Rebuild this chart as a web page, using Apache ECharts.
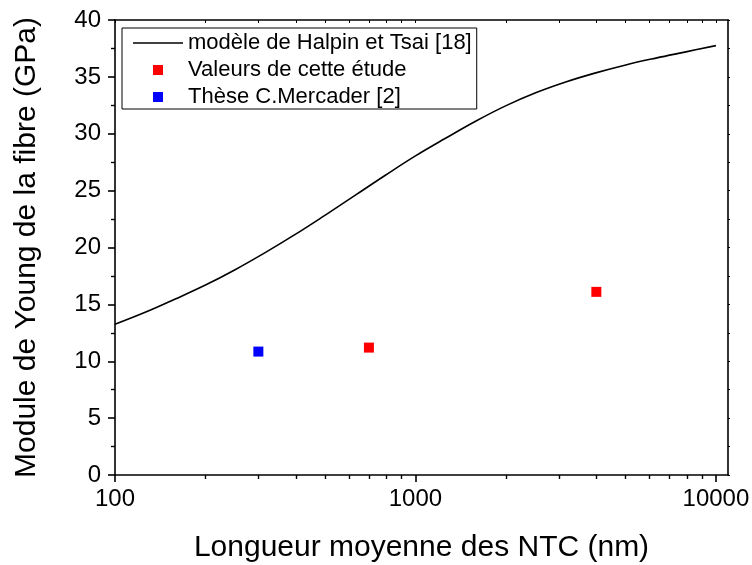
<!DOCTYPE html>
<html>
<head>
<meta charset="utf-8">
<script src="https://cdn.jsdelivr.net/npm/echarts@6/dist/echarts.min.js"></script>
<style>html,body{margin:0;padding:0;background:#fff}#c{width:752px;height:565px}</style>
</head>
<body>
<div id="c"></div>
<script>
// Data
const curveX = [100, 126, 158, 200, 251, 316, 398, 501, 631, 794, 1000, 1259, 1585, 1995, 2512, 3162, 3981, 5012, 6310, 7943, 10000];
const curveY = [13.25, 14.3, 15.45, 16.7, 18.05, 19.55, 21.15, 22.85, 24.6, 26.35, 28.05, 29.6, 31.1, 32.45, 33.6, 34.55, 35.35, 36.05, 36.65, 37.2, 37.75];
const studyX = [700, 4000];
const studyY = [11.2, 16.1];
const theseX = [300];
const theseY = [10.85];
const seriesNames = ['modèle de Halpin et Tsai [18]', 'Valeurs de cette étude', 'Thèse C.Mercader [2]'];
const xMajorTicks = [100, 1000, 10000];
const xMinorTicks = [200, 300, 400, 500, 600, 700, 800, 900, 2000, 3000, 4000, 5000, 6000, 7000, 8000, 9000];
const xTitle = 'Longueur moyenne des NTC (nm)';
const yTitle = 'Module de Young de la fibre (GPa)';

const zip = (xs, ys) => xs.map((x, i) => [x, ys[i]]);
const FONT = "'Liberation Sans', Arial, sans-serif";
const XMIN = 100, XMAX = 10970;
const axisLine = {show: true, lineStyle: {color: '#000', width: 1.6}};
const legendText = {fontFamily: FONT, fontSize: 22, color: '#000', lineHeight: 22};

const chart = echarts.init(document.getElementById('c'));
chart.setOption({
  animation: false,
  backgroundColor: '#fff',
  grid: {left: 115, right: 24, top: 20, bottom: 90, containLabel: false, outerBoundsMode: 'none'},
  legend: [
    {
      left: 122, top: 28, orient: 'vertical',
      padding: [4, 5, 1, 11],
      borderColor: '#000', borderWidth: 1,
      itemWidth: 50, itemHeight: 10, itemGap: 5,
      textStyle: legendText,
      data: [
        {name: seriesNames[0], icon: 'path://M0,0H50V1.6H0Z'},
        {name: seriesNames[1], icon: 'rect', itemStyle: {opacity: 0}},
        {name: seriesNames[2], icon: 'rect', itemStyle: {opacity: 0}}
      ]
    },
    {
      left: 153, top: 59, orient: 'vertical',
      padding: 0,
      itemWidth: 10, itemHeight: 10, itemGap: 5,
      textStyle: Object.assign({}, legendText, {color: 'rgba(0,0,0,0)'}),
      data: [
        {name: seriesNames[1], icon: 'rect'},
        {name: seriesNames[2], icon: 'rect'}
      ]
    }
  ],
  xAxis: [
    {
      type: 'log', logBase: 10, min: XMIN, max: XMAX, position: 'bottom',
      name: xTitle, nameLocation: 'middle', nameGap: 58,
      nameTextStyle: {fontFamily: FONT, fontSize: 30, color: '#000'},
      axisLine: axisLine,
      axisTick: {show: true, inside: false, length: 7, customValues: xMajorTicks, lineStyle: {color: '#000', width: 1.6}},
      axisLabel: {show: true, margin: 12, fontFamily: FONT, fontSize: 24, color: '#000', customValues: xMajorTicks,
                  formatter: v => String(Math.round(v))},
      splitLine: {show: false}
    },
    {
      type: 'log', logBase: 10, min: XMIN, max: XMAX, position: 'bottom', gridIndex: 0,
      axisLine: {show: false},
      axisTick: {show: true, inside: false, length: 4, customValues: xMinorTicks, lineStyle: {color: '#000', width: 1.4}},
      axisLabel: {show: false},
      splitLine: {show: false}
    },
    {
      type: 'log', logBase: 10, min: XMIN, max: XMAX, position: 'top', gridIndex: 0,
      axisLine: axisLine,
      axisTick: {show: true, inside: true, length: 3, customValues: xMajorTicks.concat(xMinorTicks), lineStyle: {color: '#000', width: 1}},
      axisLabel: {show: false},
      splitLine: {show: false}
    }
  ],
  yAxis: [
    {
      type: 'value', min: 0, max: 40, interval: 5, position: 'left',
      name: yTitle, nameLocation: 'middle', nameGap: 73,
      nameTextStyle: {fontFamily: FONT, fontSize: 30, color: '#000'},
      axisLine: axisLine,
      axisTick: {show: true, inside: false, length: 7, lineStyle: {color: '#000', width: 1.6}},
      minorTick: {show: true, splitNumber: 2, length: 4, lineStyle: {color: '#000', width: 1.4}},
      axisLabel: {margin: 14, fontFamily: FONT, fontSize: 24, color: '#000'},
      splitLine: {show: false}, minorSplitLine: {show: false}
    },
    {
      type: 'value', min: 0, max: 40, interval: 5, position: 'right',
      axisLine: axisLine,
      axisTick: {show: true, inside: false, length: 2, lineStyle: {color: '#000', width: 1}},
      minorTick: {show: true, splitNumber: 2, length: 2, lineStyle: {color: '#000', width: 1}},
      axisLabel: {show: false},
      splitLine: {show: false}, minorSplitLine: {show: false}
    }
  ],
  series: [
    {
      name: seriesNames[0], type: 'line', xAxisIndex: 0, yAxisIndex: 0,
      data: zip(curveX, curveY), smooth: 0.4, symbol: 'none',
      lineStyle: {color: '#000', width: 1.6}, itemStyle: {color: '#000'}
    },
    {
      name: seriesNames[1], type: 'scatter', xAxisIndex: 0, yAxisIndex: 0,
      data: zip(studyX, studyY), symbol: 'rect', symbolSize: 10,
      itemStyle: {color: '#ff0000', opacity: 1}
    },
    {
      name: seriesNames[2], type: 'scatter', xAxisIndex: 0, yAxisIndex: 0,
      data: zip(theseX, theseY), symbol: 'rect', symbolSize: 10,
      itemStyle: {color: '#0000ff', opacity: 1}
    }
  ]
});
</script>
</body>
</html>
